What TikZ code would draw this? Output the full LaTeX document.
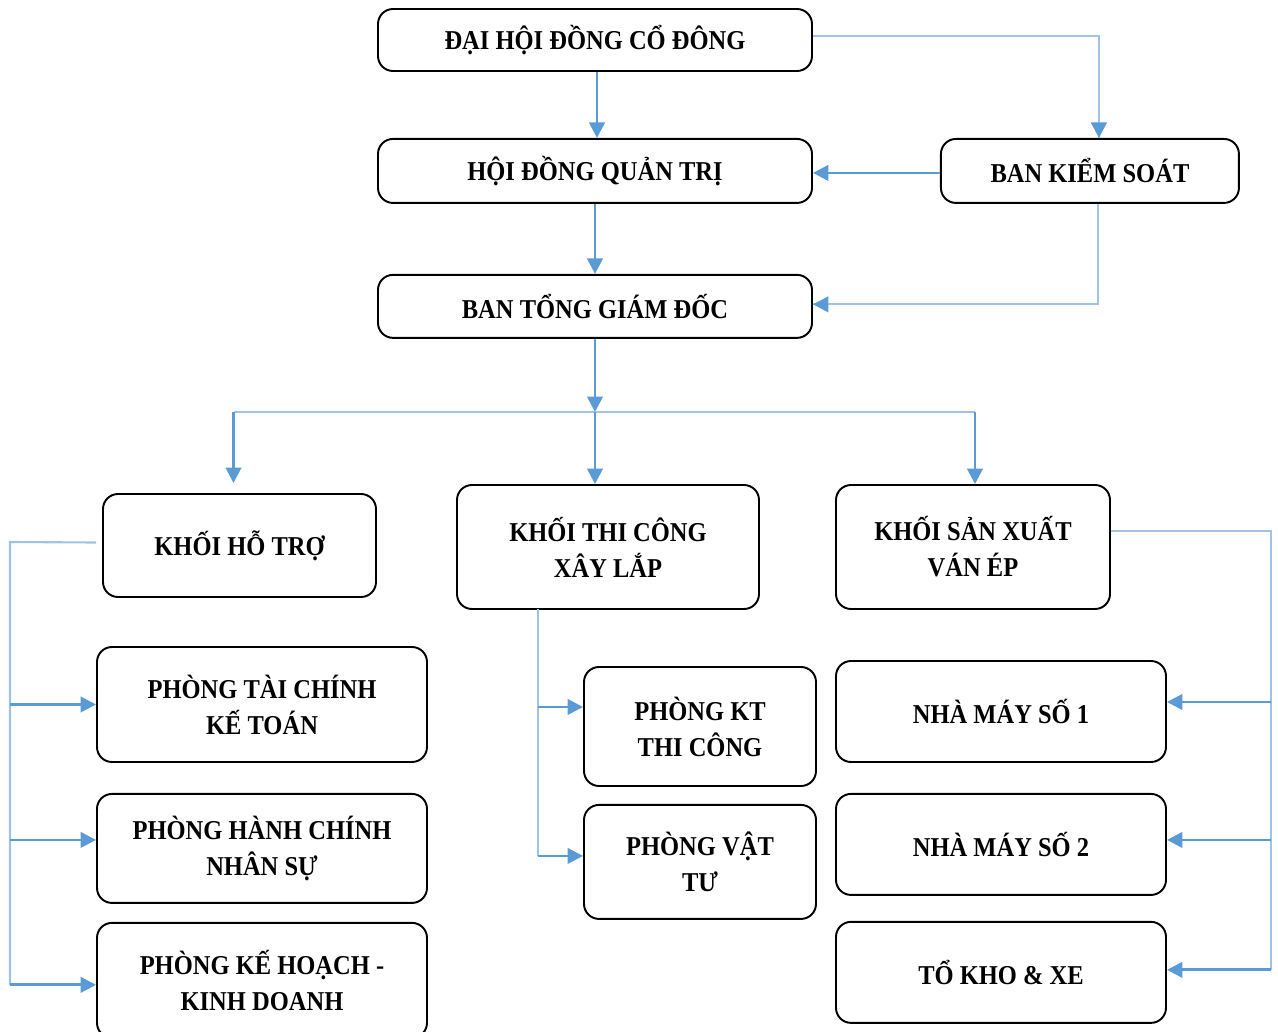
\documentclass[tikz,border=0pt]{standalone}
\usepackage{fontspec}
\setmainfont{Liberation Serif}[FakeStretch=0.9]
\usetikzlibrary{arrows.meta,positioning,shapes}
\usepackage{xcolor}
\definecolor{linkblue}{RGB}{91, 155, 213}
\definecolor{trunkblue}{RGB}{157, 195, 230}

\begin{document}
\begin{tikzpicture}[
        node distance=1cm,
        box/.style={
            rectangle,
            rounded corners=0.3cm,
            draw,
            line width=1.1pt,
            inner sep=0pt,
            align=center,
            font=\bfseries\fontsize{15.5}{20.5}\selectfont
        },
        link/.style={-{Triangle[length=3.1mm,width=3.1mm]}, color=linkblue, line width=1.6pt},
        trunk/.style={-, color=trunkblue, line width=1.2pt}
    ]

        \useasboundingbox (0,0) rectangle (25.56,-20.64);
        \clip (0,0) rectangle (25.56,-20.64);

        % top of the chart
        \node (dhcd) [
            box,
            minimum width=8.68cm,
            minimum height=1.24cm
        ] at (11.90,-0.80)
        {ĐẠI HỘI ĐỒNG CỔ ĐÔNG};

        \node (hdqt) [
            box,
            minimum width=8.68cm,
            minimum height=1.28cm,
            below=1.32cm of dhcd
        ]
        {HỘI ĐỒNG QUẢN TRỊ};

        \node (bks) [
            box,
            minimum width=5.96cm,
            minimum height=1.28cm,
            right=2.54cm of hdqt
        ]
        {BAN KIỂM SOÁT};

        \node (btgd) [
            box,
            minimum width=8.68cm,
            minimum height=1.26cm,
            below=1.40cm of hdqt
        ]
        {BAN TỔNG GIÁM ĐỐC};

        % the three blocks
        \node (khtro) [
            box,
            minimum width=5.46cm,
            minimum height=2.06cm
        ] at (4.79,-10.91)
        {KHỐI HỖ TRỢ};

        \node (ktcxl) [
            box,
            minimum width=6.04cm,
            minimum height=2.48cm
        ] at (12.16,-10.94)
        {KHỐI THI CÔNG\\XÂY LẮP};

        \node (ksxve) [
            box,
            minimum width=5.48cm,
            minimum height=2.48cm
        ] at (19.46,-10.94)
        {KHỐI SẢN XUẤT\\VÁN ÉP};

        % departments
        \node (ptckt) [
            box,
            minimum width=6.60cm,
            minimum height=2.30cm
        ] at (5.24,-14.09)
        {PHÒNG TÀI CHÍNH\\KẾ TOÁN};

        \node (phcns) [
            box,
            minimum width=6.60cm,
            minimum height=2.18cm,
            below=0.60cm of ptckt
        ]
        {PHÒNG HÀNH CHÍNH\\NHÂN SỰ};

        \node (pkhkd) [
            box,
            minimum width=6.60cm,
            minimum height=2.30cm,
            below=0.36cm of phcns
        ]
        {PHÒNG KẾ HOẠCH -\\KINH DOANH};

        \node (pktc) [
            box,
            minimum width=4.64cm,
            minimum height=2.38cm
        ] at (14.00,-14.53)
        {PHÒNG KT\\THI CÔNG};

        \node (pvt) [
            box,
            minimum width=4.64cm,
            minimum height=2.28cm,
            below=0.34cm of pktc
        ]
        {PHÒNG VẬT\\TƯ};

        \node (nms1) [
            box,
            minimum width=6.60cm,
            minimum height=2.02cm
        ] at (20.02,-14.23)
        {NHÀ MÁY SỐ 1};

        \node (nms2) [
            box,
            minimum width=6.60cm,
            minimum height=2.02cm,
            below=0.60cm of nms1
        ]
        {NHÀ MÁY SỐ 2};

        \node (tkx) [
            box,
            minimum width=6.60cm,
            minimum height=2.02cm,
            below=0.50cm of nms2
        ]
        {TỔ KHO \& XE};

        \coordinate (split) at (11.90,-8.24);
        \coordinate (lbus) at (0.20,-10.84);
        \coordinate (mbus) at (10.76,-12.18);
        \coordinate (rbus) at (25.42,-10.62);

        \draw[link] ([xshift=0.04cm]dhcd.south) -- ([xshift=0.04cm]dhcd.south |- hdqt.north);
        \draw[trunk] ([yshift=0.08cm]dhcd.east) -| ([xshift=0.18cm]bks.north);
        \draw[link] ([xshift=0.18cm,yshift=0.2cm]bks.north) -- ([xshift=0.18cm]bks.north);
        \draw[link] ([yshift=-0.04cm]bks.west) -- ([yshift=-0.04cm]hdqt.east);
        \draw[trunk] ([xshift=0.16cm]bks.south) |- ([yshift=0.04cm]btgd.east);
        \draw[link] ([xshift=0.2cm,yshift=0.04cm]btgd.east) -- ([yshift=0.04cm]btgd.east);
        \draw[link] (hdqt.south) -- (btgd.north);

        \draw[link] (btgd.south) -- (split);
        \draw[trunk] ([xshift=-0.12cm]split -| khtro) -- ([xshift=0.04cm]split -| ksxve);
        \draw[link] ([xshift=-0.12cm]split -| khtro) -- ([xshift=-0.12cm,yshift=0.2cm]khtro.north);
        \draw[link] (split) -- (split |- ktcxl.north);
        \draw[link] ([xshift=0.04cm]split -| ksxve) -- ([xshift=0.04cm]ksxve.north);

        \draw[trunk] ([xshift=-0.12cm,yshift=0.06cm]khtro.west) -- (lbus) -- ([yshift=-0.09cm]lbus |- pkhkd.west);
        \draw[link] (lbus |- ptckt.west) -- (ptckt.west);
        \draw[link] ([yshift=0.17cm]lbus |- phcns.west) -- ([yshift=0.17cm]phcns.west);
        \draw[link] ([yshift=-0.09cm]lbus |- pkhkd.west) -- ([yshift=-0.09cm]pkhkd.west);

        \draw[trunk] (mbus) -- ([yshift=0.12cm]mbus |- pvt.west);
        \draw[link] ([yshift=0.39cm]mbus |- pktc.west) -- ([yshift=0.39cm]pktc.west);
        \draw[link] ([yshift=0.12cm]mbus |- pvt.west) -- ([yshift=0.12cm]pvt.west);

        \draw[trunk] ([yshift=0.32cm]ksxve.east) -- (rbus) -- ([yshift=0.05cm]rbus |- tkx.east);
        \draw[link] ([yshift=0.19cm]rbus |- nms1.east) -- ([yshift=0.19cm]nms1.east);
        \draw[link] ([yshift=0.09cm]rbus |- nms2.east) -- ([yshift=0.09cm]nms2.east);
        \draw[link] ([yshift=0.05cm]rbus |- tkx.east) -- ([yshift=0.05cm]tkx.east);
    \end{tikzpicture}
\end{document}
